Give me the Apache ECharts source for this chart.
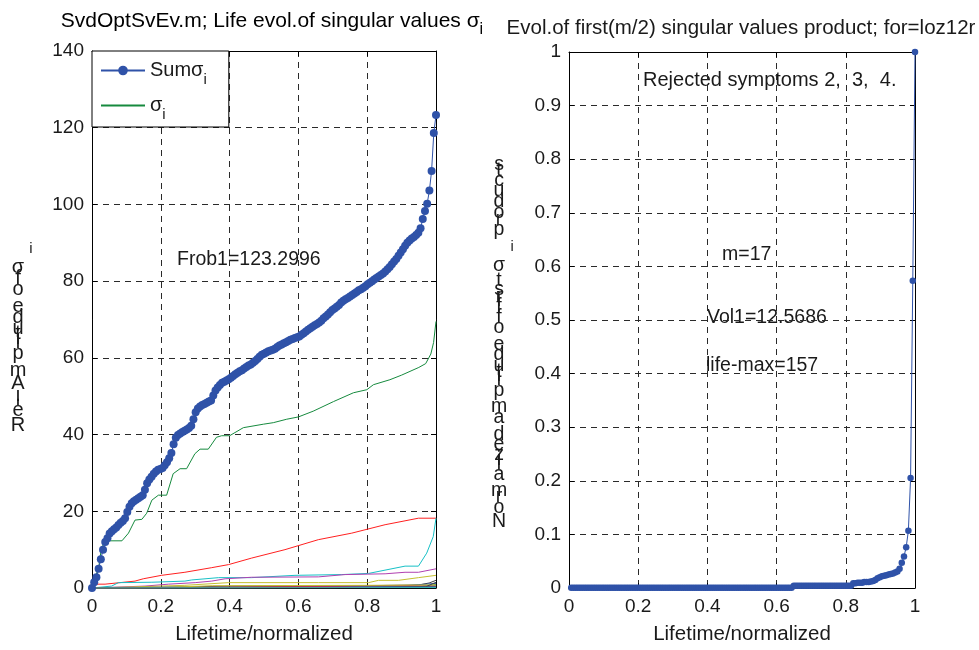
<!DOCTYPE html>
<html><head><meta charset="utf-8">
<script src="https://cdn.jsdelivr.net/npm/echarts@6/dist/echarts.min.js"></script>
<style>html,body{margin:0;padding:0;background:#fff}#c{width:979px;height:650px}</style>
</head><body><div id="c"></div><script>
// ---- data ----
const lifeMax = 157;
const xTickLabels = ['0', '0.2', '0.4', '0.6', '0.8', '1'];
const leftYTickLabels = ['0', '20', '40', '60', '80', '100', '120', '140'];
const rightYTickLabels = ['0', '0.1', '0.2', '0.3', '0.4', '0.5', '0.6', '0.7', '0.8', '0.9', '1'];

// Sum of singular values over normalized lifetime
const sumSigma = [
  0, 1.5, 2.8, 5, 7.5, 10, 12, 13, 14.2, 14.8,
  15.3, 15.8, 16.4, 17, 17.5, 18.2, 19.8, 21.2, 22.1, 22.6,
  23, 23.4, 23.8, 24.2, 25.6, 27.3, 28.3, 29, 29.8, 30.4,
  30.8, 31, 31.3, 32, 32.8, 33.8, 35.2, 37.5, 39.2, 39.9,
  40.3, 40.7, 41, 41.3, 41.7, 42.3, 44, 45.8, 46.8, 47.3,
  47.7, 48, 48.3, 48.6, 48.9, 50.2, 51.5, 52.3, 52.9, 53.5,
  53.8, 54.1, 54.4, 54.8, 55.3, 55.7, 56.1, 56.5, 56.8, 57.2,
  57.6, 58, 58.3, 58.7, 59.2, 59.7, 60.3, 60.8, 61.1, 61.4,
  61.7, 61.9, 62.1, 62.4, 62.8, 63.2, 63.5, 63.8, 64.1, 64.4,
  64.7, 64.9, 65.2, 65.4, 65.6, 66, 66.4, 66.9, 67.3, 67.7,
  68.1, 68.5, 68.8, 69.2, 69.7, 70.3, 70.8, 71.3, 71.9, 72.5,
  72.9, 73.3, 73.8, 74.4, 74.9, 75.3, 75.6, 76, 76.4, 76.8,
  77.2, 77.6, 77.9, 78.3, 78.7, 79.2, 79.6, 80, 80.4, 80.8,
  81.2, 81.6, 82, 82.5, 83.1, 83.7, 84.4, 85.1, 85.8, 86.6,
  87.5, 88.3, 89.2, 90, 90.6, 91.1, 91.5, 92, 92.6, 93.8,
  96.2, 98.3, 100.2, 103.6, 108.7, 118.6, 123.3
];

// Individual singular values sigma_i, [lifetime, value]
const sigma1 = [[0,0],[0.02,5.7],[0.028,10.8],[0.048,12.3],[0.087,12.3],[0.106,14.3],[0.125,17.7],[0.145,17.9],[0.159,19.5],[0.174,22.9],[0.193,24.2],[0.217,24.2],[0.236,29.8],[0.256,31.1],[0.275,31.1],[0.299,35],[0.314,36.2],[0.338,36.2],[0.362,39.3],[0.377,39.7],[0.4,39.7],[0.44,41.8],[0.498,42.7],[0.527,43.1],[0.566,44],[0.6,44.6],[0.643,46.1],[0.702,48.6],[0.76,50.9],[0.799,51.7],[0.818,53],[0.866,54.3],[0.9,55.5],[0.95,57.5],[0.97,58.5],[0.985,61],[0.993,64],[1,69.5]];
const sigma2 = [[0,0],[0.009,1],[0.038,1],[0.125,1.8],[0.149,2.4],[0.202,3.3],[0.27,4.1],[0.348,5.3],[0.397,6.1],[0.464,7.8],[0.561,10],[0.658,12.6],[0.755,14.3],[0.852,16.5],[0.949,18.2],[1,18.2]];
const sigma3 = [[0,0],[0.057,0.5],[0.077,1.4],[0.174,1.5],[0.27,1.8],[0.29,2.1],[0.368,2.7],[0.464,2.7],[0.59,3.3],[0.726,3.5],[0.804,3.8],[0.91,5.7],[0.949,5.7],[0.973,9.1],[0.992,13.4],[1,18.2]];
const sigma4 = [[0,0],[0.154,0.5],[0.222,1],[0.3,1.4],[0.348,1.8],[0.387,2.4],[0.464,2.8],[0.658,2.9],[0.736,3.5],[0.852,3.7],[0.91,4.1],[0.949,4.1],[1,5]];
const sigma5 = [[0,0],[0.125,0.3],[0.27,0.7],[0.397,1.4],[0.658,1.4],[0.804,1.4],[0.833,2],[0.891,2],[0.949,2.7],[1,3.3]];
const sigma6 = [[0,0],[0.2,0.2],[0.4,0.5],[0.8,0.6],[0.95,0.8],[0.98,1.3],[1,2]];
const sigma7 = [[0,0],[0.3,0.2],[0.6,0.3],[0.9,0.5],[1,1.2]];
const sigma8 = [[0,0],[0.5,0.2],[0.95,0.4],[1,0.9]];
const sigma9 = [[0,0],[0.4,0.2],[1,0.6]];
const sigma10 = [[0,0],[0.7,0.1],[1,0.5]];
const sigma11 = [[0,0],[0.6,0.15],[1,0.4]];
const sigma12 = [[0,0],[0.2,0.1],[0.35,0.6],[0.8,0.7],[1,0.8]];
const sigma13 = [[0,0],[0.8,0.1],[0.97,0.3],[1,1.5]];
const sigma14 = [[0,0],[1,0.3]];
const sigma15 = [[0,0],[1,0.2]];
const sigma16 = [[0,0],[1,0.15]];
const sigma17 = [[0,0],[1,0.1]];

// Normalized product of the first m/2 singular values (k = 1..lifeMax)
const volProduct = [
  0.0005, 0.0005, 0.0005, 0.0005, 0.0005, 0.0005, 0.0005, 0.0005, 0.0005, 0.0005,
  0.0005, 0.0005, 0.0005, 0.0005, 0.0005, 0.0005, 0.0005, 0.0005, 0.0005, 0.0005,
  0.0005, 0.0005, 0.0005, 0.0005, 0.0005, 0.0005, 0.0005, 0.0005, 0.0005, 0.0005,
  0.0005, 0.0005, 0.0005, 0.0005, 0.0005, 0.0005, 0.0005, 0.0005, 0.0005, 0.0005,
  0.0005, 0.0005, 0.0005, 0.0005, 0.0005, 0.0005, 0.0005, 0.0005, 0.0005, 0.0005,
  0.0005, 0.0005, 0.0005, 0.0005, 0.0005, 0.0005, 0.0005, 0.0005, 0.0005, 0.0005,
  0.0005, 0.0005, 0.0005, 0.0005, 0.0005, 0.0005, 0.0005, 0.0005, 0.0005, 0.0005,
  0.0005, 0.0005, 0.0005, 0.0005, 0.0005, 0.0005, 0.0005, 0.0005, 0.0005, 0.0005,
  0.0005, 0.0005, 0.0005, 0.0005, 0.0005, 0.0005, 0.0005, 0.0005, 0.0005, 0.0005,
  0.0005, 0.0005, 0.0005, 0.0005, 0.0005, 0.0005, 0.0005, 0.0005, 0.0005, 0.0005,
  0.0005, 0.004, 0.004, 0.004, 0.004, 0.004, 0.004, 0.004, 0.004, 0.004,
  0.004, 0.004, 0.004, 0.004, 0.004, 0.004, 0.004, 0.004, 0.004, 0.004,
  0.004, 0.004, 0.004, 0.004, 0.004, 0.004, 0.004, 0.004, 0.009, 0.009,
  0.010, 0.010, 0.010, 0.011, 0.011, 0.011, 0.012, 0.013, 0.015, 0.018,
  0.020, 0.022, 0.023, 0.024, 0.025, 0.026, 0.027, 0.029, 0.031, 0.036,
  0.047, 0.059, 0.076, 0.107, 0.205, 0.573, 1.0
];

// ---- chart ----
const FONT = '"Liberation Sans", Arial, sans-serif';
const TXT = '#1a1a1a';
const sigmaSeries = [sigma1, sigma2, sigma3, sigma4, sigma5, sigma6, sigma7, sigma8, sigma9,
  sigma10, sigma11, sigma12, sigma13, sigma14, sigma15, sigma16, sigma17];
const cycle = ['#168a3e', '#ff2020', '#17c0c6', '#b040b0', '#c4c030', '#404040', '#2f52a8'];
const BLUE = '#2f52a8';

const sumData = sumSigma.map((v, k) => [k / (sumSigma.length - 1), v]);
const volData = volProduct.map((v, k) => [(k + 1) / lifeMax, v]);

function tickFmt(labels, step) {
  return v => labels[Math.round(v / step)];
}
function xAxis(grid, pos, main) {
  return {
    type: 'value', gridIndex: grid, position: pos, min: 0, max: 1, interval: 0.2,
    axisLine: { show: true, onZero: false, lineStyle: { color: '#000', width: 1 } },
    axisTick: { show: true, inside: true, length: 5, lineStyle: { color: '#000' } },
    axisLabel: { show: main, fontSize: 19, fontFamily: FONT, color: TXT, margin: 9,
      formatter: tickFmt(xTickLabels, 0.2) },
    splitLine: { show: main, lineStyle: { color: '#2a2a2a', type: [6, 5], width: 1 } },
    name: main ? 'Lifetime/normalized' : '', nameLocation: 'middle', nameGap: 36,
    nameTextStyle: { fontSize: 20.5, fontFamily: FONT, color: TXT }
  };
}
function yAxis(grid, pos, main, max, interval, labels) {
  return {
    type: 'value', gridIndex: grid, position: pos, min: 0, max: max, interval: interval,
    axisLine: { show: true, onZero: false, lineStyle: { color: '#000', width: 1 } },
    axisTick: { show: true, inside: true, length: 5, lineStyle: { color: '#000' } },
    axisLabel: { show: main, fontSize: 19, fontFamily: FONT, color: TXT, margin: 8,
      formatter: tickFmt(labels, interval) },
    splitLine: { show: main, lineStyle: { color: '#2a2a2a', type: [6, 5], width: 1 } }
  };
}

const series = [];
series.push({
  name: 'Sum', type: 'line', xAxisIndex: 0, yAxisIndex: 0, data: sumData,
  symbol: 'circle', symbolSize: 8, showAllSymbol: true, z: 5,
  lineStyle: { color: BLUE, width: 1 }, itemStyle: { color: BLUE }
});
sigmaSeries.forEach((d, i) => {
  series.push({
    name: i === 0 ? 'sigma' : 'sigma' + (i + 1), type: 'line', xAxisIndex: 0, yAxisIndex: 0,
    data: d, symbol: 'none', z: 3,
    lineStyle: { color: cycle[i % cycle.length], width: 1 }, itemStyle: { color: cycle[i % cycle.length] }
  });
});
series.push({
  name: 'Vol', type: 'line', xAxisIndex: 2, yAxisIndex: 2, data: volData,
  symbol: 'circle', symbolSize: 6.5, showAllSymbol: true, z: 5,
  lineStyle: { color: BLUE, width: 1 }, itemStyle: { color: BLUE }
});

// Text stacked glyph by glyph along a vertical baseline
const measureCtx = document.createElement('canvas').getContext('2d');
function stackedLabel(parts, cx, yBottom, size) {
  const els = [];
  let y = yBottom;
  parts.forEach(p => {
    if (p.gap) { y -= p.gap; return; }
    if (p.sub) {
      const s = size * 0.75;
      els.push({ type: 'text', x: cx + 13, y: y - 6,
        style: { text: p.sub, fontSize: s, fontFamily: FONT, fill: TXT, align: 'center', verticalAlign: 'middle' } });
      y -= 8;
      return;
    }
    measureCtx.font = size + 'px ' + FONT;
    for (const ch of p.text) {
      if (ch !== ' ') {
        els.push({ type: 'text', x: cx, y: y,
          style: { text: ch, fontSize: size, fontFamily: FONT, fill: TXT, align: 'center', verticalAlign: 'middle' } });
      }
      y -= measureCtx.measureText(ch).width;
    }
  });
  return els;
}

const richSub = {
  a: { fontSize: 20, fontFamily: FONT, color: TXT, lineHeight: 22, verticalAlign: 'middle' },
  g: { fontSize: 20, fontFamily: FONT, color: TXT, lineHeight: 22, verticalAlign: 'middle' },
  s: { fontSize: 15, fontFamily: FONT, color: TXT, lineHeight: 15, padding: [18, 0, 0, 0], verticalAlign: 'middle' }
};
const richTitle = {
  a: { fontSize: 21, fontFamily: FONT, color: TXT, lineHeight: 24, verticalAlign: 'middle' },
  g: { fontSize: 21, fontFamily: FONT, color: TXT, lineHeight: 24, verticalAlign: 'middle' },
  s: { fontSize: 16, fontFamily: FONT, color: TXT, lineHeight: 16, padding: [18, 0, 0, 0], verticalAlign: 'middle' }
};

function txt(x, y, text, size) {
  return { type: 'text', x: x, y: y,
    style: { text: text, fontSize: size || 19.5, fontFamily: FONT, fill: TXT, align: 'left', verticalAlign: 'middle' } };
}

const graphics = [
  { type: 'text', x: 272, y: 21,
    style: { text: '{a|SvdOptSvEv.m; Life evol.of singular values }{g|σ}{s|i}', rich: richTitle,
      align: 'center', verticalAlign: 'middle' } },
  { type: 'text', x: 741, y: 28,
    style: { text: 'Evol.of first(m/2) singular values product; for=loz12r', fontSize: 20.5, fontFamily: FONT,
      fill: TXT, align: 'center', verticalAlign: 'middle' } },
  txt(177, 260, 'Frob1=123.2996'),
  txt(643, 80, 'Rejected symptoms 2,  3,  4.', 20),
  txt(722, 255, 'm=17'),
  txt(707, 318, 'Vol1=12.5686'),
  txt(706, 366, 'life-max=157')
].concat(
  stackedLabel([{ text: 'Rel. Amplitude of σ' }, { sub: 'i' }], 18, 425, 20),
  stackedLabel([{ text: 'Normalized amplitude of first ' }, { gap: 4 }, { text: 'σ' }, { sub: 'i' },
    { gap: 10 }, { text: ' products' }], 499, 522, 19.5)
);

const chart = echarts.init(document.getElementById('c'), null, { renderer: 'canvas' });
chart.setOption({
  animation: false,
  backgroundColor: '#fff',
  grid: [
    { left: 92, top: 51, width: 344, height: 541 },
    { left: 569, top: 52, width: 346, height: 540 }
  ],
  xAxis: [xAxis(0, 'bottom', true), xAxis(0, 'top', false), xAxis(1, 'bottom', true), xAxis(1, 'top', false)],
  yAxis: [
    yAxis(0, 'left', true, 140, 20, leftYTickLabels), yAxis(0, 'right', false, 140, 20, leftYTickLabels),
    yAxis(1, 'left', true, 1, 0.1, rightYTickLabels), yAxis(1, 'right', false, 1, 0.1, rightYTickLabels)
  ],
  legend: {
    data: ['Sum', { name: 'sigma', itemStyle: { opacity: 0 } }],
    orient: 'vertical', left: 92, top: 51,
    backgroundColor: '#fff', borderColor: '#000', borderWidth: 1, borderRadius: 0,
    padding: [3, 22, 5, 8], itemGap: 2, itemWidth: 44, itemHeight: 12,
    formatter: n => n === 'Sum' ? '{a|Sum}{g|σ}{s|i}' : '{g|σ}{s|i}',
    textStyle: { rich: richSub }
  },
  series: series,
  graphic: graphics
});
</script></body></html>
